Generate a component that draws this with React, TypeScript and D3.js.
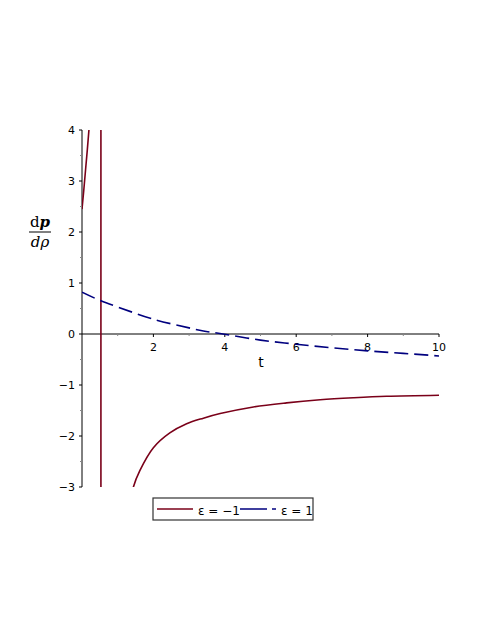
import React from 'react';
import * as d3 from 'd3';

// epsilon = -1 (two branches joined across the pole, as plotted)
const redT = [0, 0.05, 0.1, 0.15, 0.2, 0.3, 0.4, 0.5, 0.53, 0.53, 0.8, 1.2, 1.44, 1.62, 2.0, 2.46, 2.93, 3.4, 3.87, 4.8, 5.73, 6.67, 7.6, 8.53, 10];
const redV = [2.45, 2.82, 3.22, 3.62, 4.05, 5.0, 7.0, 15, 60, -60, -8, -4, -3.0, -2.68, -2.23, -1.94, -1.76, -1.65, -1.56, -1.43, -1.35, -1.29, -1.25, -1.22, -1.2];

// epsilon = 1
const blueT = [0, 0.53, 1, 2, 3, 3.4, 3.95, 5, 6, 7, 8, 9, 10];
const blueV = [0.82, 0.65, 0.53, 0.29, 0.12, 0.06, 0, -0.12, -0.2, -0.27, -0.33, -0.38, -0.43];

const xTicks = [2, 4, 6, 8, 10];
const yTicks = [-3, -2, -1, 0, 1, 2, 3, 4];

const W = 482;
const H = 623;
const left = 82, right = 439, top = 130, bottom = 487;
const RED = '#7a0019';
const BLUE = '#00007f';
const FONT = 'DejaVu Sans, sans-serif';

export default function App() {
  const x = d3.scaleLinear().domain([0, 10]).range([left, right]);
  const y = d3.scaleLinear().domain([-3, 4]).range([bottom, top]);
  const line = d3.line<[number, number]>().x(d => x(d[0])).y(d => y(d[1]));
  const red = redT.map((t, i) => [t, redV[i]] as [number, number]);
  const blue = blueT.map((t, i) => [t, blueV[i]] as [number, number]);
  const curve = d3.line<[number, number]>().x(d => x(d[0])).y(d => y(d[1])).curve(d3.curveCatmullRom.alpha(0.5));
  const minorX = d3.range(1, 10, 2);
  const minorY = d3.range(-2.5, 4, 1);

  return (
    <svg width={W} height={H} style={{ position: 'absolute', left: 0, top: 0, background: '#fff' }}>
      <defs>
        <clipPath id="plot">
          <rect x={left} y={top} width={right - left} height={bottom - top} />
        </clipPath>
      </defs>
      {/* axes */}
      <line x1={x(0)} x2={x(0)} y1={top} y2={bottom} stroke="#000" strokeWidth={1} />
      <line x1={left} x2={right} y1={y(0)} y2={y(0)} stroke="#000" strokeWidth={1} />
      {yTicks.map(v => (
        <g key={v}>
          <line x1={left - 3} x2={left} y1={y(v)} y2={y(v)} stroke="#000" />
          <text x={left - 7} y={y(v) + 4} textAnchor="end" fontSize={11} fontFamily={FONT}>
            {v < 0 ? `\u2212${-v}` : v}
          </text>
        </g>
      ))}
      {minorY.map(v => (
        <line key={v} x1={left - 2} x2={left} y1={y(v)} y2={y(v)} stroke="#888" />
      ))}
      {xTicks.map(v => (
        <g key={v}>
          <line x1={x(v)} x2={x(v)} y1={y(0)} y2={y(0) + 3} stroke="#000" />
          <text x={x(v)} y={y(0) + 17} textAnchor="middle" fontSize={11} fontFamily={FONT}>{v}</text>
        </g>
      ))}
      {minorX.map(v => (
        <line key={v} x1={x(v)} x2={x(v)} y1={y(0)} y2={y(0) + 2} stroke="#888" />
      ))}
      {/* curves */}
      <g clipPath="url(#plot)">
        <path d={line(red.slice(0, 10)) || ''} fill="none" stroke={RED} strokeWidth={1.6} />
        <path d={curve(red.slice(9)) || ''} fill="none" stroke={RED} strokeWidth={1.6} />
        <path d={curve(blue) || ''} fill="none" stroke={BLUE} strokeWidth={1.6} strokeDasharray="14,6" />
      </g>
      {/* axis labels */}
      <text x={261} y={367} textAnchor="middle" fontSize={14} fontFamily={FONT}>t</text>
      <g fontFamily="DejaVu Serif, serif" fontSize={15}>
        <text x={40} y={227} textAnchor="middle">
          d<tspan fontWeight="bold" fontStyle="italic">p</tspan>
        </text>
        <line x1={29} x2={51} y1={232} y2={232} stroke="#000" strokeWidth={1} />
        <text x={40} y={247} textAnchor="middle" fontStyle="italic">dρ</text>
      </g>
      {/* legend */}
      <rect x={153} y={498} width={160} height={22} fill="#fff" stroke="#333" strokeWidth={1.2} />
      <line x1={157} x2={193} y1={509} y2={509} stroke={RED} strokeWidth={1.6} />
      <text x={198} y={515} fontSize={12} fontFamily={FONT}>ε = −1</text>
      <line x1={240} x2={276} y1={509} y2={509} stroke={BLUE} strokeWidth={1.6} strokeDasharray="27,5" />
      <text x={281} y={515} fontSize={12} fontFamily={FONT}>ε = 1</text>
    </svg>
  );
}
